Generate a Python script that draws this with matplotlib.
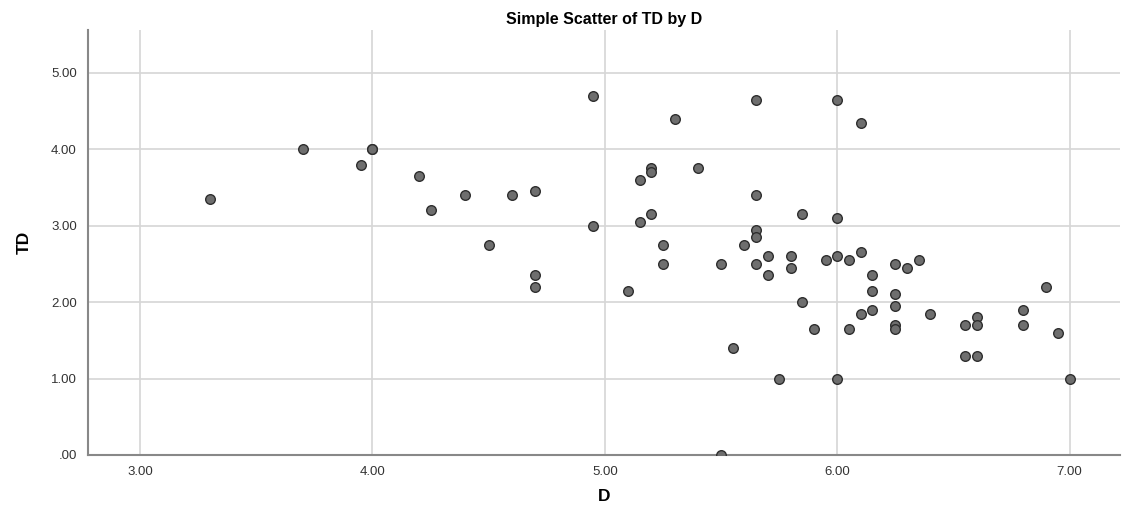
import matplotlib
matplotlib.use('Agg')
import matplotlib.pyplot as plt
from matplotlib.ticker import FuncFormatter

plt.rcParams['font.family'] = ['Liberation Sans', 'DejaVu Sans']

# valores
d = [3.30, 3.70, 3.95, 4.00, 4.00, 4.20, 4.25, 4.40, 4.50, 4.60,
     4.70, 4.70, 4.70, 4.95, 4.95, 5.10, 5.15, 5.15, 5.20, 5.20,
     5.20, 5.25, 5.25, 5.30, 5.40, 5.50, 5.50, 5.55, 5.60, 5.65,
     5.65, 5.65, 5.65, 5.65, 5.70, 5.70, 5.75, 5.80, 5.80, 5.85,
     5.85, 5.90, 5.95, 6.00, 6.00, 6.00, 6.00, 6.05, 6.05, 6.10,
     6.10, 6.10, 6.15, 6.15, 6.15, 6.25, 6.25, 6.25, 6.25, 6.25,
     6.30, 6.35, 6.40, 6.55, 6.55, 6.60, 6.60, 6.60, 6.80, 6.80,
     6.90, 6.95, 7.00]
td = [3.35, 4.00, 3.80, 4.00, 4.00, 3.65, 3.20, 3.40, 2.75, 3.40,
      3.45, 2.35, 2.20, 4.70, 3.00, 2.15, 3.60, 3.05, 3.75, 3.70,
      3.15, 2.75, 2.50, 4.40, 3.75, 2.50, 0.00, 1.40, 2.75, 4.65,
      3.40, 2.95, 2.85, 2.50, 2.60, 2.35, 1.00, 2.60, 2.45, 3.15,
      2.00, 1.65, 2.55, 4.65, 3.10, 2.60, 1.00, 2.55, 1.65, 4.35,
      2.65, 1.85, 2.35, 2.15, 1.90, 2.50, 2.10, 1.95, 1.70, 1.65,
      2.45, 2.55, 1.85, 1.70, 1.30, 1.80, 1.70, 1.30, 1.90, 1.70,
      2.20, 1.60, 1.00]

x_ticks = [3, 4, 5, 6, 7]
y_ticks = [0, 1, 2, 3, 4, 5]

fig = plt.figure(figsize=(11.23, 5.14), dpi=100)
ax = fig.add_axes([0.0784, 0.1148, 0.9186, 0.8268])

ax.scatter(d, td, s=48, facecolor='#6e6e6e', edgecolor='#2e2e2e', linewidth=1.0, zorder=3)

ax.set_xlim(2.776, 7.215)
ax.set_ylim(0, 5.56)
ax.set_xticks(x_ticks)
ax.set_yticks(y_ticks)

def fmt(v, pos):
    s = '%.2f' % v
    return s[1:] if s.startswith('0') else s

ax.xaxis.set_major_formatter(FuncFormatter(fmt))
ax.yaxis.set_major_formatter(FuncFormatter(fmt))

ax.grid(True, color='#d6d6d6', linewidth=1.2, zorder=0)
ax.set_axisbelow(True)
ax.tick_params(length=0, labelsize=9.5, colors='#333333', pad=8)

for s in ['top', 'right']:
    ax.spines[s].set_visible(False)
for s in ['left', 'bottom']:
    ax.spines[s].set_color('#888888')
    ax.spines[s].set_linewidth(1.5)

ax.set_title('Simple Scatter of TD by D', fontsize=11.5, fontweight='bold', pad=4)
ax.set_xlabel('D', fontsize=12.5, fontweight='bold', labelpad=8)
ax.set_ylabel('TD', fontsize=12.5, fontweight='bold', labelpad=14)

fig.savefig('out.png', dpi=100)
